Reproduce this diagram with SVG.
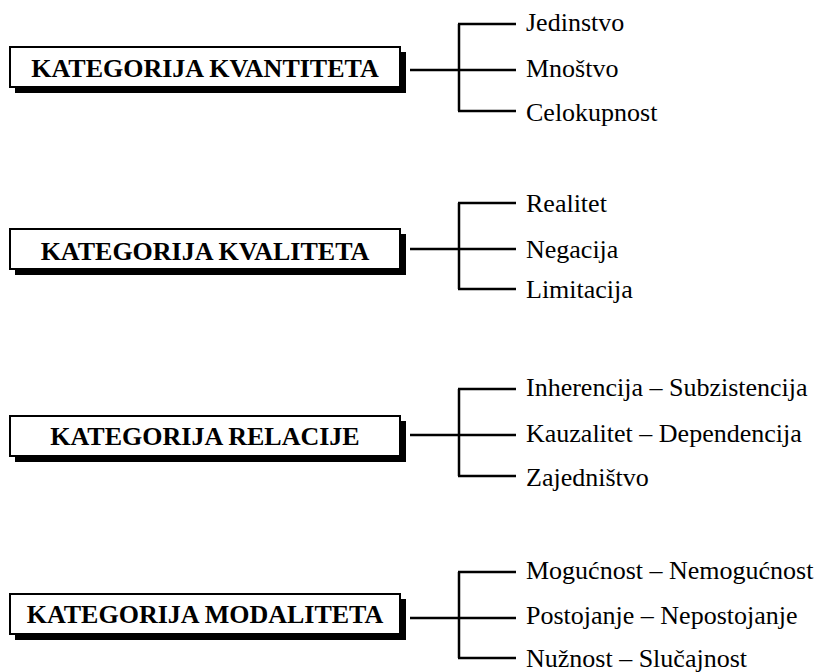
<svg xmlns="http://www.w3.org/2000/svg" width="819" height="672" viewBox="0 0 819 672">
<style>
.shadow{fill:#000}
.box{fill:#fff;stroke:#000;stroke-width:2}
.title{font-weight:bold;font-size:26px;fill:#000;text-anchor:middle}
.item{font-size:26px;fill:#000}
.conn line{stroke:#000;stroke-width:2.5;fill:none}
</style>
<rect width="819" height="672" fill="#fff"/>
<g font-family="'Times New Roman', Times, 'Liberation Serif', serif">
<g id="kvantiteta">
<rect class="shadow" x="15" y="52" width="391" height="41"/>
<rect class="box" x="10" y="47" width="390" height="40"/>
<text class="title" x="205" y="77">KATEGORIJA KVANTITETA</text>
</g>
<g id="kvaliteta">
<rect class="shadow" x="15" y="234" width="391" height="41"/>
<rect class="box" x="10" y="229" width="390" height="40"/>
<text class="title" x="205" y="260">KATEGORIJA KVALITETA</text>
</g>
<g id="relacije">
<rect class="shadow" x="15" y="421" width="391" height="41"/>
<rect class="box" x="10" y="416" width="390" height="40"/>
<text class="title" x="205" y="445">KATEGORIJA RELACIJE</text>
</g>
<g id="modaliteta">
<rect class="shadow" x="15" y="599" width="391" height="41"/>
<rect class="box" x="10" y="594" width="390" height="40"/>
<text class="title" x="205" y="623">KATEGORIJA MODALITETA</text>
</g>
<g id="items1">
<text id="jedinstvo" class="item" x="526" y="31">Jedinstvo</text>
<text id="mnostvo" class="item" x="526" y="77">Mnoštvo</text>
<text id="celokupnost" class="item" x="526" y="121">Celokupnost</text>
</g>
<g id="items2">
<text id="realitet" class="item" x="526" y="212">Realitet</text>
<text id="negacija" class="item" x="526" y="258">Negacija</text>
<text id="limitacija" class="item" x="526" y="298">Limitacija</text>
</g>
<g id="items3">
<text id="inherencija" class="item" x="526" y="396">Inherencija – Subzistencija</text>
<text id="kauzalitet" class="item" x="526" y="442">Kauzalitet – Dependencija</text>
<text id="zajednistvo" class="item" x="526" y="486">Zajedništvo</text>
</g>
<g id="items4">
<text id="mogucnost" class="item" x="526" y="579">Mogućnost – Nemogućnost</text>
<text id="postojanje" class="item" x="526" y="624">Postojanje – Nepostojanje</text>
<text id="nuznost" class="item" x="526" y="667">Nužnost – Slučajnost</text>
</g>
</g>
<g id="connectors" class="conn">
<line x1="410" y1="70" x2="459" y2="70"/>
<line x1="459" y1="24" x2="459" y2="111"/>
<line x1="458" y1="24" x2="516" y2="24"/>
<line x1="459" y1="70" x2="516" y2="70"/>
<line x1="458" y1="111" x2="516" y2="111"/>
<line x1="410" y1="249" x2="459" y2="249"/>
<line x1="459" y1="203" x2="459" y2="289"/>
<line x1="458" y1="203" x2="516" y2="203"/>
<line x1="459" y1="249" x2="516" y2="249"/>
<line x1="458" y1="289" x2="516" y2="289"/>
<line x1="410" y1="435" x2="459" y2="435"/>
<line x1="459" y1="389" x2="459" y2="476"/>
<line x1="458" y1="389" x2="516" y2="389"/>
<line x1="459" y1="435" x2="516" y2="435"/>
<line x1="458" y1="476" x2="516" y2="476"/>
<line x1="410" y1="618" x2="459" y2="618"/>
<line x1="459" y1="572" x2="459" y2="658"/>
<line x1="458" y1="572" x2="516" y2="572"/>
<line x1="459" y1="618" x2="516" y2="618"/>
<line x1="458" y1="658" x2="516" y2="658"/>
</g>
</svg>
